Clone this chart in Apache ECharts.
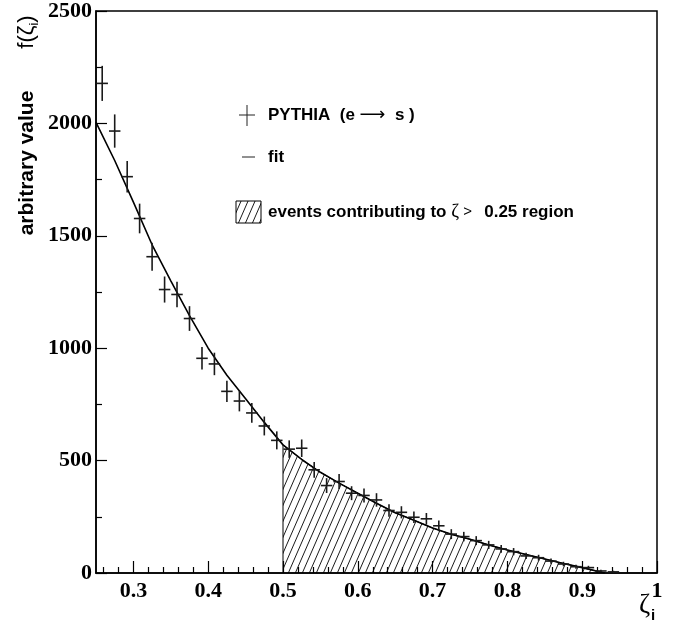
<!DOCTYPE html>
<html><head><meta charset="utf-8">
<script src="https://cdn.jsdelivr.net/npm/echarts@6/dist/echarts.min.js"></script>
<style>html,body{margin:0;padding:0;background:#fff}#c{width:693px;height:641px}</style>
</head><body><div id="c"></div>
<script>
// ---- data ----
const binWidth = 1 / 60;
const binCenters = [0.2583,0.2750,0.2917,0.3083,0.3250,0.3417,0.3583,0.3750,0.3917,0.4083,
  0.4250,0.4417,0.4583,0.4750,0.4917,0.5083,0.5250,0.5417,0.5583,0.5750,
  0.5917,0.6083,0.6250,0.6417,0.6583,0.6750,0.6917,0.7083,0.7250,0.7417,
  0.7583,0.7750,0.7917,0.8083,0.8250,0.8417,0.8583,0.8750,0.8917,0.9083,
  0.9250,0.9417];
const pythiaValues = [2178,1966,1763,1577,1407,1261,1239,1132,955,930,
  808,765,712,654,590,551,555,459,389,407,
  355,345,325,278,270,248,241,210,173,162,
  144,125,107,95,76,68,53,40,28,24,
  9,5];
const pythiaErrors = [78,74,70,66,62,58,57,55,50,50,
  47,46,44,42,40,39,39,35,33,33,
  31,31,30,28,27,26,26,24,22,21,
  20,18,17,16,14,13,12,10,9,8,
  5,5];
const fitX = [0.25,0.275,0.30,0.325,0.35,0.375,0.40,0.425,0.45,0.475,0.50,0.525,0.55,0.575,0.60,
  0.625,0.65,0.675,0.70,0.725,0.75,0.775,0.80,0.825,0.85,0.875,0.90,0.93];
const fitY = [2005,1835,1650,1460,1300,1145,1000,880,775,670,570,505,448,400,355,
  310,268,235,200,172,150,125,102,82,62,42,24,0];
const hatchStart = 0.5;
const xMajorTicks = [0.3,0.4,0.5,0.6,0.7,0.8,0.9,1.0];
const xMinorTicks = [0.26,0.28,0.32,0.34,0.36,0.38,0.42,0.44,0.46,0.48,0.52,0.54,0.56,0.58,
  0.62,0.64,0.66,0.68,0.72,0.74,0.76,0.78,0.82,0.84,0.86,0.88,0.92,0.94,0.96,0.98];
const yTicks = [0,500,1000,1500,2000,2500];

// ---- helpers ----
function hatchPattern() {
  const c = document.createElement('canvas');
  const w = 7, h = 16;
  c.width = w; c.height = h;
  const g = c.getContext('2d');
  g.strokeStyle = '#000'; g.lineWidth = 0.9;
  g.beginPath();
  for (const o of [-w, 0, w]) { g.moveTo(o, h); g.lineTo(o + w, 0); }
  g.stroke();
  return c;
}
const pat = hatchPattern();

const fitData = fitX.map((x, i) => [x, fitY[i]]);
const hatchData = [[hatchStart, 0]].concat(fitData.filter(p => p[0] >= hatchStart));
const pointData = binCenters.map((x, i) => [x, pythiaValues[i], pythiaErrors[i]]);

const tickFont = { fontFamily: 'Liberation Serif', fontWeight: 'bold', fontSize: 22, color: '#000' };
const sans = 'Liberation Sans';

const chart = echarts.init(document.getElementById('c'), null, { renderer: 'canvas' });
chart.setOption({
  animation: false,
  backgroundColor: '#fff',
  grid: { left: 96, right: 36, top: 11, bottom: 68, show: true, borderColor: '#000', borderWidth: 1.5, backgroundColor: 'transparent' },
  xAxis: [{
    type: 'value', min: 0.25, max: 1,
    axisLine: { show: true, lineStyle: { color: '#000', width: 1.5 } },
    axisTick: { show: true, inside: true, length: 12, customValues: xMajorTicks, lineStyle: { color: '#000', width: 1.2 } },
    axisLabel: Object.assign({ customValues: xMajorTicks, margin: 7,
      formatter: v => (Math.abs(v - 1) < 1e-9 ? '1' : v.toFixed(1)) }, tickFont),
    splitLine: { show: false }
  }, {
    type: 'value', min: 0.25, max: 1, position: 'bottom', gridIndex: 0,
    axisLine: { show: false },
    axisTick: { show: true, inside: true, length: 6, customValues: xMinorTicks, lineStyle: { color: '#000', width: 1.2 } },
    axisLabel: { show: false },
    splitLine: { show: false }
  }],
  yAxis: {
    type: 'value', min: 0, max: 2500, interval: 500,
    axisLine: { show: true, lineStyle: { color: '#000', width: 1.5 } },
    axisTick: { show: true, inside: true, length: 11, lineStyle: { color: '#000', width: 1.2 } },
    minorTick: { show: true, splitNumber: 2, length: 6, lineStyle: { color: '#000', width: 1.2 } },
    axisLabel: Object.assign({ margin: 4, formatter: v => String(v) }, tickFont),
    splitLine: { show: false }, minorSplitLine: { show: false }
  },
  series: [{
    name: 'hatch', type: 'line', data: hatchData, showSymbol: false, symbol: 'none',
    lineStyle: { color: '#000', width: 1 },
    areaStyle: { color: { image: pat, repeat: 'repeat' }, opacity: 1 },
    z: 1
  }, {
    name: 'fit', type: 'line', data: fitData, showSymbol: false, symbol: 'none',
    lineStyle: { color: '#000', width: 1.6 }, z: 3
  }, {
    name: 'PYTHIA', type: 'custom', data: pointData, z: 4,
    renderItem: function (params, api) {
      const x = api.value(0), y = api.value(1), e = api.value(2);
      const c = api.coord([x, y]);
      const l = api.coord([x - binWidth / 2, y]);
      const r = api.coord([x + binWidth / 2, y]);
      const t = api.coord([x, y + e]);
      const b = api.coord([x, Math.max(0, y - e)]);
      const st = { stroke: '#1a1a1a', lineWidth: 1.6 };
      return { type: 'group', children: [
        { type: 'line', shape: { x1: l[0] + 0.5, y1: c[1], x2: r[0] - 0.5, y2: c[1] }, style: st },
        { type: 'line', shape: { x1: c[0], y1: t[1], x2: c[0], y2: b[1] }, style: st }
      ] };
    }
  }],
  graphic: [
    // y axis title
    { type: 'text', x: 27, y: 163, rotation: Math.PI / 2,
      style: { text: 'arbitrary value', fontFamily: sans, fontWeight: 'bold', fontSize: 21, fill: '#000', align: 'center', verticalAlign: 'middle' } },
    { type: 'text', x: 27, y: 32, rotation: Math.PI / 2,
      style: { text: 'f(ζ{s|i})', fontFamily: sans, fontSize: 22, fill: '#000', align: 'center', verticalAlign: 'middle',
        rich: { s: { fontFamily: sans, fontSize: 13, verticalAlign: 'bottom', lineHeight: 28, fill: '#000' } } } },
    // x axis title
    { type: 'text', x: 639, y: 606,
      style: { text: 'ζ', fontFamily: 'Liberation Serif', fontSize: 27, fill: '#000', align: 'left', verticalAlign: 'middle' } },
    { type: 'text', x: 651, y: 616,
      style: { text: 'i', fontFamily: sans, fontWeight: 'bold', fontSize: 15, fill: '#000', align: 'left', verticalAlign: 'middle' } },
    // legend: PYTHIA
    { type: 'line', shape: { x1: 239, y1: 115, x2: 255, y2: 115 }, style: { stroke: '#222', lineWidth: 1 } },
    { type: 'line', shape: { x1: 247, y1: 105, x2: 247, y2: 126 }, style: { stroke: '#222', lineWidth: 1 } },
    { type: 'text', x: 268, y: 115,
      style: { text: '{b|PYTHIA  (e }{a|⟶}{b|  s )}', verticalAlign: 'middle', align: 'left',
        rich: { b: { fontFamily: sans, fontWeight: 'bold', fontSize: 17, fill: '#000' },
                a: { fontFamily: 'DejaVu Sans', fontSize: 18, fill: '#000' } } } },
    // legend: fit
    { type: 'line', shape: { x1: 242, y1: 157, x2: 255, y2: 157 }, style: { stroke: '#222', lineWidth: 1 } },
    { type: 'text', x: 268, y: 157,
      style: { text: 'fit', fontFamily: sans, fontWeight: 'bold', fontSize: 17, fill: '#000', verticalAlign: 'middle', align: 'left' } },
    // legend: hatched region
    { type: 'rect', shape: { x: 236, y: 201, width: 25, height: 22 },
      style: { fill: { image: pat, repeat: 'repeat' }, stroke: '#000', lineWidth: 1 } },
    { type: 'text', x: 268, y: 212,
      style: { text: '{b|events contributing to }{z|ζ}{g| > } {b| 0.25 region}', verticalAlign: 'middle', align: 'left',
        rich: { b: { fontFamily: sans, fontWeight: 'bold', fontSize: 17, fill: '#000' },
                z: { fontFamily: 'Liberation Serif', fontSize: 19, fill: '#000' },
                g: { fontFamily: sans, fontSize: 15, fill: '#000' } } } }
  ]
});
</script>
</body></html>
